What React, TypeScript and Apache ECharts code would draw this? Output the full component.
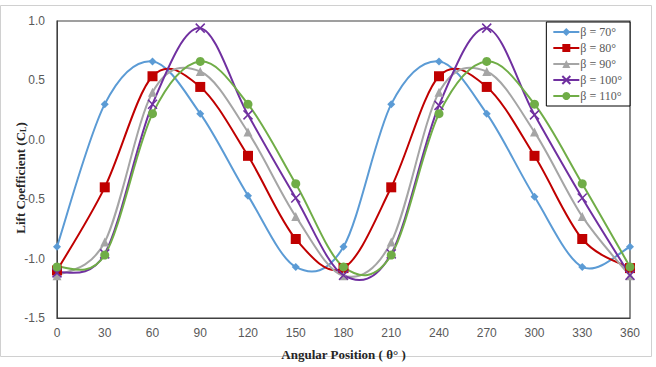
import React, { useEffect, useRef } from "react";
import * as echarts from "echarts";

const angles = [0, 30, 60, 90, 120, 150, 180, 210, 240, 270, 300, 330, 360];
const beta70 = [-0.9, 0.3, 0.66, 0.22, -0.47, -1.07, -0.9, 0.3, 0.66, 0.22, -0.48, -1.07, -0.9];
const beta80 = [-1.1, -0.4, 0.535, 0.445, -0.135, -0.835, -1.08, -0.4, 0.535, 0.445, -0.135, -0.835, -1.08];
const beta90 = [-1.145, -0.86, 0.4, 0.575, 0.065, -0.645, -1.145, -0.86, 0.4, 0.575, 0.065, -0.645, -1.145];
const beta100 = [-1.12, -0.96, 0.3, 0.94, 0.21, -0.49, -1.14, -0.96, 0.29, 0.94, 0.21, -0.49, -1.14];
const beta110 = [-1.07, -0.97, 0.22, 0.66, 0.3, -0.37, -1.07, -0.97, 0.22, 0.66, 0.3, -0.37, -1.07];
const seriesNames = ["β = 70°", "β = 80°", "β = 90°", "β = 100°", "β = 110°"];
const seriesColors = ["#5B9BD5", "#C00000", "#A5A5A5", "#7030A0", "#70AD47"];
const yAxisTitle = "{t|Lift Coefficient (C}{s|L}{t|)}";
const xAxisTitle = "Angular Position ( θ° )";

const crossPath = "path://M0,0L10,10M10,0L0,10";

function smoothPath(pts: number[][]): string {
  const n = pts.length;
  let d = `M${pts[0][0]},${pts[0][1]}`;
  for (let i = 0; i < n - 1; i++) {
    const p0 = pts[Math.max(0, i - 1)];
    const p1 = pts[i];
    const p2 = pts[i + 1];
    const p3 = pts[Math.min(n - 1, i + 2)];
    const c1x = p1[0] + (p2[0] - p0[0]) / 6;
    const c1y = p1[1] + (p2[1] - p0[1]) / 6;
    const c2x = p2[0] - (p3[0] - p1[0]) / 6;
    const c2y = p2[1] - (p3[1] - p1[1]) / 6;
    d += `C${c1x},${c1y},${c2x},${c2y},${p2[0]},${p2[1]}`;
  }
  return d;
}

export default function App() {
  const ref = useRef<HTMLDivElement>(null);
  useEffect(() => {
    if (!ref.current) return;
    const chart = echarts.init(ref.current, undefined, { renderer: "svg" });
    const datasets = [beta70, beta80, beta90, beta100, beta110];
    const symbols = ["diamond", "rect", "triangle", crossPath, "circle"];
    const sizes = [8, 10, 9, 9, 9];
    const curveSeries = datasets.map((d, i) => ({
      type: "custom",
      silent: true,
      z: 2 + i,
      data: d.map((v, j) => [angles[j], v]),
      encode: { x: 0, y: 1 },
      renderItem: (params: any, api: any) => {
        if (params.dataIndex !== 0) return null;
        const pts = d.map((v, j) => api.coord([angles[j], v]));
        return {
          type: "path",
          shape: { pathData: smoothPath(pts) },
          style: { stroke: seriesColors[i], lineWidth: 2, fill: "none" },
        };
      },
    }));
    const markerSeries = datasets.map((d, i) => ({
      name: seriesNames[i],
      type: "line",
      data: d.map((v, j) => [angles[j], v]),
      symbol: symbols[i],
      symbolSize: sizes[i],
      showSymbol: true,
      lineStyle: { color: seriesColors[i], width: 2, opacity: 0 },
      itemStyle: {
        color: seriesColors[i],
        borderColor: seriesColors[i],
        borderWidth: i === 3 ? 1.5 : 0,
      },
      z: 10 + i,
    }));
    chart.setOption({
      animation: false,
      backgroundColor: "#ffffff",
      grid: {
        left: 57, right: 26, top: 21, bottom: 49, show: true,
        borderColor: "#404040", borderWidth: 1.2, containLabel: false, outerBoundsMode: "none",
      },
      legend: {
        orient: "vertical",
        right: 26,
        top: 22,
        width: 84,
        padding: [4, 8, 4, 6],
        itemGap: 4,
        itemWidth: 26,
        itemHeight: 10,
        borderColor: "#000000",
        borderWidth: 1,
        backgroundColor: "#ffffff",
        textStyle: { fontFamily: "Liberation Serif", fontSize: 12, color: "#595959", padding: [0, 0, 0, -4] },
        data: seriesNames.map((n, i) => ({
          name: n,
          lineStyle: { opacity: 1, color: seriesColors[i], width: 2 },
        })),
      },
      xAxis: {
        type: "value",
        min: 0,
        max: 360,
        interval: 30,
        name: xAxisTitle,
        nameLocation: "middle",
        nameGap: 30,
        nameTextStyle: { fontFamily: "Liberation Serif", fontWeight: "bold", fontSize: 13, color: "#262626" },
        axisLine: { show: true, onZero: false, lineStyle: { color: "#404040" } },
        axisTick: { show: false },
        splitLine: { show: false },
        axisLabel: { fontFamily: "Liberation Sans", fontSize: 12, color: "#595959", margin: 9 },
      },
      yAxis: {
        type: "value",
        min: -1.5,
        max: 1,
        interval: 0.5,
        axisLine: { show: true, onZero: false, lineStyle: { color: "#404040" } },
        axisTick: { show: false },
        splitLine: { show: false },
        axisLabel: {
          fontFamily: "Liberation Sans",
          fontSize: 12,
          color: "#595959",
          margin: 12,
          formatter: (v: number) => v.toFixed(1),
        },
      },
      graphic: [
        {
          type: "rect",
          shape: { x: 0.5, y: 5.5, width: 651, height: 351 },
          style: { fill: "none", stroke: "#d0d0d0", lineWidth: 1 },
          silent: true,
          z: -1,
        },
        {
          type: "text",
          x: 20,
          y: 178,
          rotation: Math.PI / 2,
          silent: true,
          style: {
            text: yAxisTitle,
            align: "center",
            verticalAlign: "middle",
            rich: {
              t: { fontFamily: "Liberation Serif", fontWeight: "bold", fontSize: 13, fill: "#262626" },
              s: { fontFamily: "Liberation Serif", fontWeight: "bold", fontSize: 8, fill: "#262626", verticalAlign: "bottom", padding: [6, 0, 0, 0] },
            },
          },
        },
      ],
      series: [...curveSeries, ...markerSeries],
    });
    return () => chart.dispose();
  }, []);
  return <div ref={ref} style={{ position: "fixed", left: 0, top: 0, width: 656, height: 367 }} />;
}
